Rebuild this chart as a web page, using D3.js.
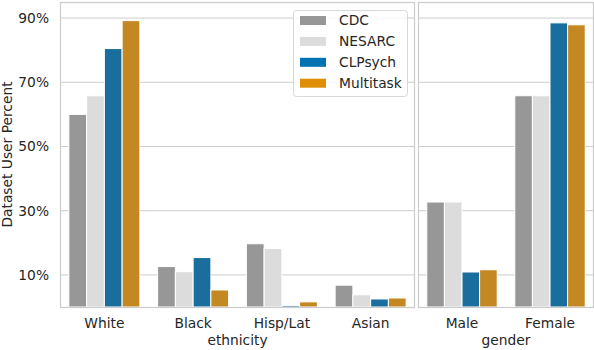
<!DOCTYPE html>
<html>
<head>
<meta charset="utf-8">
<script src="https://cdn.jsdelivr.net/npm/d3@7"></script>
<style>
  body { margin: 0; background: #fff; }
  text { font-family: "DejaVu Sans", sans-serif; fill: #262626; }
</style>
</head>
<body>
<svg id="chart" width="594" height="350"></svg>
<script>
const series = ['CDC', 'NESARC', 'CLPsych', 'Multitask'];
const legendColors = ['#979797', '#dcdcdc', '#0173b2', '#de8f05'];
const barColors = ['#979797', '#dcdcdc', '#1a6e9e', '#c48822'];

const ethnicities = ['White', 'Black', 'Hisp/Lat', 'Asian'];
const ethCDC = [60, 12.6, 19.7, 6.8];
const ethNESARC = [65.8, 11.0, 18.2, 3.8];
const ethCLPsych = [80.5, 15.4, 0.5, 2.5];
const ethMultitask = [89.2, 5.3, 1.6, 2.8];

const genders = ['Male', 'Female'];
const genCDC = [32.7, 65.8];
const genNESARC = [32.7, 65.8];
const genCLPsych = [10.9, 88.5];
const genMultitask = [11.6, 87.9];

const yTicks = [10, 30, 50, 70, 90];

const fs = '13.8px';
const svg = d3.select('#chart');
const plotTop = 2, plotBottom = 307;
const y = d3.scaleLinear().domain([0, 95]).range([plotBottom, plotTop]);

function panel(x0, x1, cats, vals, title, showY) {
  const g = svg.append('g');
  const x = d3.scaleBand().domain(cats).range([x0, x1]).paddingInner(0).paddingOuter(0);
  const inner = d3.scaleBand().domain(series).range([0, x.bandwidth() * 0.8]);

  // grid
  g.selectAll('.grid').data(yTicks).enter().append('line')
    .attr('x1', x0).attr('x2', x1)
    .attr('y1', d => y(d)).attr('y2', d => y(d))
    .attr('stroke', '#cccccc').attr('stroke-width', 1);

  const rows = [];
  cats.forEach((c, i) => series.forEach((s, j) => rows.push({ c, s, j, v: vals[j][i] })));
  g.selectAll('.bar').data(rows).enter().append('rect')
    .attr('x', d => x(d.c) + x.bandwidth() * 0.1 + inner(d.s))
    .attr('y', d => y(d.v))
    .attr('width', inner.bandwidth())
    .attr('height', d => plotBottom - y(d.v))
    .attr('fill', d => barColors[d.j])
    .attr('stroke', '#fff').attr('stroke-width', 1);

  g.append('rect')
    .attr('x', x0 + 0.5).attr('y', plotTop + 0.5)
    .attr('width', x1 - x0 - 1).attr('height', plotBottom - plotTop)
    .attr('fill', 'none').attr('stroke', '#cccccc').attr('stroke-width', 1.25);

  const xAxis = d3.axisBottom(x).tickSize(0).tickPadding(0);
  const ax = g.append('g').attr('transform', `translate(0,${plotBottom})`).call(xAxis);
  ax.select('.domain').remove();
  ax.selectAll('text').attr('y', 20.5).attr('dy', null)
    .style('font-size', fs).attr('fill', '#262626')
    .attr('font-family', '"DejaVu Sans", sans-serif');

  g.append('text').attr('x', (x0 + x1) / 2).attr('y', 345)
    .attr('text-anchor', 'middle').style('font-size', fs).text(title);

  if (showY) {
    const yAxis = d3.axisLeft(y).tickValues(yTicks).tickSize(0).tickPadding(11)
      .tickFormat(d => d + '%');
    const ay = g.append('g').attr('transform', `translate(${x0},0)`).call(yAxis);
    ay.select('.domain').remove();
    ay.selectAll('text').style('font-size', fs).attr('fill', '#262626')
      .attr('font-family', '"DejaVu Sans", sans-serif');
  }
}

panel(60, 415, ethnicities, [ethCDC, ethNESARC, ethCLPsych, ethMultitask], 'ethnicity', true);
panel(418, 594, genders, [genCDC, genNESARC, genCLPsych, genMultitask], 'gender', false);

svg.append('text')
  .attr('transform', `translate(12,${(plotTop + plotBottom) / 2}) rotate(-90)`)
  .attr('text-anchor', 'middle').style('font-size', fs)
  .text('Dataset User Percent');

// legend
const lg = svg.append('g').attr('transform', 'translate(293,10)');
lg.append('rect').attr('x', 0.5).attr('y', 0.5).attr('width', 114).attr('height', 86)
  .attr('rx', 3).attr('fill', '#fff').attr('fill-opacity', 0.8)
  .attr('stroke', '#d8d8d8').attr('stroke-width', 1);
const item = lg.selectAll('.item').data(series).enter().append('g')
  .attr('transform', (d, i) => `translate(7,${10.5 + i * 20.9})`);
item.append('rect').attr('x', 0).attr('y', -4.5).attr('width', 26).attr('height', 9)
  .attr('fill', (d, i) => legendColors[i]);
item.append('text').attr('x', 39).attr('y', 0).attr('dy', '0.36em')
  .style('font-size', fs).text(d => d);
</script>
</body>
</html>
